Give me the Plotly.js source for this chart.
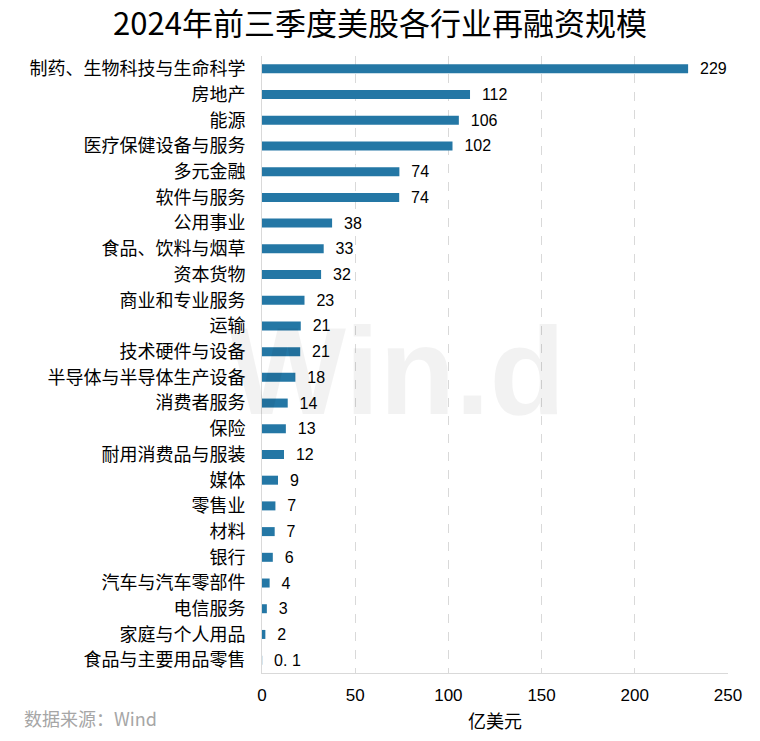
<!DOCTYPE html>
<html>
<head>
<meta charset="utf-8">
<script src="https://cdn.plot.ly/plotly-3.0.1.min.js"></script>
<style>
    html, body { margin: 0; padding: 0; background: #ffffff; }
    #chart { width: 760px; height: 741px; }
</style>
</head>
<body>
<div id="chart"></div>
<script>
// 行业名称（自上而下）
const industries = [
    '制药、生物科技与生命科学', '房地产', '能源', '医疗保健设备与服务',
    '多元金融', '软件与服务', '公用事业', '食品、饮料与烟草',
    '资本货物', '商业和专业服务', '运输', '技术硬件与设备',
    '半导体与半导体生产设备', '消费者服务', '保险', '耐用消费品与服装',
    '媒体', '零售业', '材料', '银行',
    '汽车与汽车零部件', '电信服务', '家庭与个人用品', '食品与主要用品零售'
];

// 再融资规模（亿美元）
const amounts = [
    228.6, 111.6, 105.6, 102.2,
    73.7, 73.6, 37.6, 33.1,
    31.7, 22.8, 20.8, 20.5,
    17.9, 13.8, 12.8, 11.8,
    8.6, 7.2, 6.8, 5.8,
    4.1, 2.6, 1.8, 0.1
];

// 数据标签
const amountLabels = [
    '229', '112', '106', '102',
    '74', '74', '38', '33',
    '32', '23', '21', '21',
    '18', '14', '13', '12',
    '9', '7', '7', '6',
    '4', '3', '2', '0. 1'
];

const xTicks = [0, 50, 100, 150, 200, 250];

const CJK = '"Noto Sans CJK SC", "Noto Sans", sans-serif';
const NUM = '"Liberation Sans", Arial, sans-serif';

const trace = {
    type: 'bar',
    orientation: 'h',
    y: industries,
    x: amounts,
    text: amountLabels,
    texttemplate: '\u00a0\u00a0%{text}',
    textposition: 'outside',
    constraintext: 'none',
    cliponaxis: false,
    textfont: { family: NUM, size: 16, color: '#000000' },
    marker: { color: '#2477a5' },
    hoverinfo: 'none'
};

const layout = {
    width: 760,
    height: 741,
    margin: { l: 262, r: 32, t: 56, b: 68 },
    paper_bgcolor: '#ffffff',
    plot_bgcolor: '#ffffff',
    showlegend: false,
    bargap: 0.65,
    title: {
        text: '2024年前三季度美股各行业再融资规模',
        font: { family: CJK, size: 31, color: '#000000' },
        x: 0.5,
        xanchor: 'center',
        y: 0.968,
        yanchor: 'middle'
    },
    xaxis: {
        range: [0, 250],
        tickvals: xTicks,
        ticktext: xTicks.map(String),
        showgrid: true,
        gridcolor: '#d9d9d9',
        griddash: 'dash',
        gridwidth: 1,
        zeroline: false,
        showline: true,
        linecolor: '#d9d9d9',
        linewidth: 1,
        ticks: '',
        tickfont: { family: NUM, size: 17, color: '#000000' },
        ticklabelstandoff: 7,
        title: {
            text: '亿美元',
            font: { family: CJK, size: 18, color: '#000000' },
            standoff: 10
        }
    },
    yaxis: {
        autorange: 'reversed',
        showgrid: false,
        zeroline: false,
        showline: true,
        linecolor: '#d9d9d9',
        linewidth: 1,
        ticks: '',
        ticklabelstandoff: 12,
        tickfont: { family: CJK, size: 18, color: '#000000' }
    },
    annotations: [
        {
            // 水印
            text: '<b>Win.d</b>',
            xref: 'paper', yref: 'paper',
            x: 0.29, y: 0.49,
            xanchor: 'center', yanchor: 'middle',
            showarrow: false,
            font: { family: NUM, size: 124, color: 'rgba(0,0,0,0.05)' }
        },
        {
            text: '数据来源：Wind',
            xref: 'paper', yref: 'paper',
            x: -0.515, y: -0.073,
            xanchor: 'left', yanchor: 'middle',
            showarrow: false,
            font: { family: CJK, size: 18, color: '#a6a6a6' }
        }
    ]
};

Plotly.newPlot('chart', [trace], layout, { displayModeBar: false, staticPlot: true });
</script>
</body>
</html>
